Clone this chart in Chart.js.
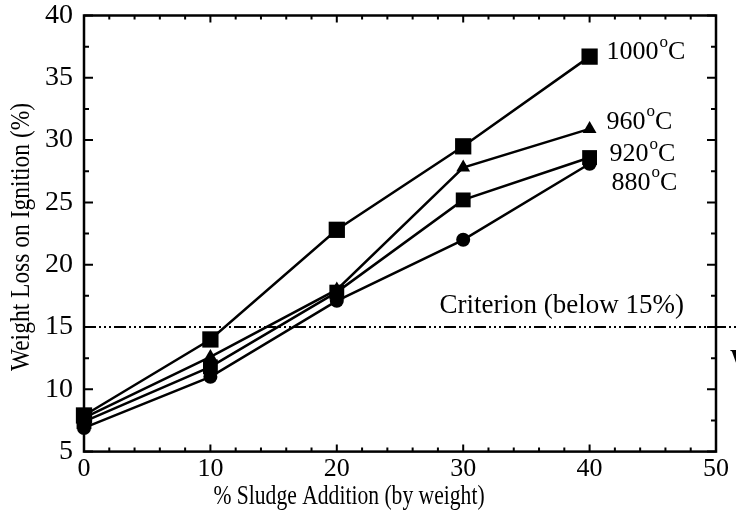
<!DOCTYPE html>
<html>
<head>
<meta charset="utf-8">
<script src="https://cdn.jsdelivr.net/npm/chart.js@4.4.1/dist/chart.umd.min.js"></script>
<style>
  html, body { margin: 0; padding: 0; background: #fff; }
  #c { display: block; }
</style>
</head>
<body>
<canvas id="c" width="736" height="520"></canvas>
<script>
// ---- data ----
const sludge = [0, 10, 20, 30, 40];
const temp1000 = [7.9, 14.0, 22.8, 29.5, 36.7];
const temp960  = [7.7, 12.6, 18.0, 27.8, 30.9];
const temp920  = [7.4, 11.8, 17.8, 25.2, 28.6];
const temp880  = [6.9, 11.0, 17.1, 22.0, 28.1];
const seriesNames = ['1000', '960', '920', '880'];
const criterionValue = 15;
const criterionText = 'Criterion (below 15%)';
const xTitle = '% Sludge Addition (by weight)';
const yTitle = 'Weight Loss on Ignition (%)';

const serif = '"Liberation Serif", "Times New Roman", serif';

function pts(vals) { return sludge.map((x, i) => ({ x: x, y: vals[i] })); }

function ds(vals, style, radius) {
  return {
    data: pts(vals),
    showLine: true,
    borderColor: '#000',
    backgroundColor: '#000',
    borderWidth: 2.5,
    pointStyle: style,
    pointRadius: radius,
    pointHoverRadius: radius,
    pointBackgroundColor: '#000',
    pointBorderColor: '#000',
    pointBorderWidth: 0,
    clip: false,
    tension: 0
  };
}

// label placement relative to last point (pixels)
const labelOffsets = [ {dx: 17, dy: -4}, {dx: 17, dy: -7}, {dx: 20, dy: -3}, {dx: 22, dy: 19} ];

function squeezedText(ctx, text, x, y, sx) {
  ctx.save();
  ctx.translate(x, y);
  ctx.scale(sx, 1);
  ctx.fillText(text, 0, 0);
  ctx.restore();
}

const framePlugin = {
  id: 'frame',
  afterDatasetsDraw(chart) {
    const ctx = chart.ctx;
    const a = chart.chartArea;
    const xs = chart.scales.x, ys = chart.scales.y;
    ctx.save();
    ctx.strokeStyle = '#000';
    ctx.lineWidth = 2.5;
    ctx.strokeRect(a.left, a.top, a.right - a.left, a.bottom - a.top);
    ctx.lineWidth = 2;
    ctx.beginPath();
    for (let v = 0; v <= 50; v += 2) {
      const px = xs.getPixelForValue(v);
      const len = (v % 10 === 0) ? 7 : 4;
      ctx.moveTo(px, a.bottom); ctx.lineTo(px, a.bottom - len);
      ctx.moveTo(px, a.top); ctx.lineTo(px, a.top + len);
    }
    for (let v = 5; v <= 40; v += 2.5) {
      const py = ys.getPixelForValue(v);
      const len = (v % 5 === 0) ? 9 : 5;
      ctx.moveTo(a.left, py); ctx.lineTo(a.left + len, py);
      ctx.moveTo(a.right, py); ctx.lineTo(a.right - len, py);
    }
    ctx.stroke();

    // criterion line
    const cy = ys.getPixelForValue(criterionValue);
    ctx.lineWidth = 2;
    ctx.setLineDash([12, 3, 2, 3, 2, 3, 2, 3]);
    ctx.beginPath();
    ctx.moveTo(a.left, cy);
    ctx.lineTo(chart.width, cy);
    ctx.stroke();
    ctx.setLineDash([]);

    ctx.fillStyle = '#000';
    ctx.textAlign = 'center';
    ctx.textBaseline = 'middle';
    ctx.font = '27px ' + serif;
    ctx.fillText(criterionText, xs.getPixelForValue(37.8), cy - 21);

    // series labels
    chart.data.datasets.forEach((d, i) => {
      const last = d.data[d.data.length - 1];
      const px = xs.getPixelForValue(last.x) + labelOffsets[i].dx;
      const py = ys.getPixelForValue(last.y) + labelOffsets[i].dy;
      ctx.textAlign = 'left';
      ctx.textBaseline = 'middle';
      ctx.font = '26px ' + serif;
      const t = seriesNames[i];
      ctx.fillText(t, px, py);
      const w = ctx.measureText(t).width;
      ctx.font = '17px ' + serif;
      ctx.fillText('o', px + w + 1, py - 10);
      const wo = ctx.measureText('o').width;
      ctx.font = '26px ' + serif;
      ctx.fillText('C', px + w + wo + 1, py);
    });

    // axis titles
    ctx.textAlign = 'center';
    ctx.textBaseline = 'middle';
    ctx.font = '27px ' + serif;
    squeezedText(ctx, xTitle, 349, 497, 0.8);
    ctx.save();
    ctx.translate(22, 237);
    ctx.rotate(-Math.PI / 2);
    ctx.scale(0.87, 1);
    ctx.fillText(yTitle, 0, 0);
    ctx.restore();

    // cut-off text at right edge of the picture
    ctx.font = 'bold 26px ' + serif;
    ctx.textAlign = 'left';
    ctx.fillText('W', 730, ys.getPixelForValue(12.3));
    ctx.restore();
  }
};

new Chart(document.getElementById('c'), {
  type: 'scatter',
  data: {
    datasets: [
      ds(temp1000, 'rect', 11.5),
      ds(temp960, 'triangle', 8),
      ds(temp920, 'rect', 10.5),
      ds(temp880, 'circle', 7)
    ]
  },
  options: {
    responsive: false,
    animation: false,
    devicePixelRatio: 1,
    layout: { padding: { left: 0, right: 20, top: 15.5, bottom: 0 } },
    plugins: { legend: { display: false }, tooltip: { enabled: false } },
    scales: {
      x: {
        type: 'linear', min: 0, max: 50,
        ticks: { stepSize: 10, color: '#000', font: { family: serif, size: 26 }, padding: 2, maxRotation: 0 },
        grid: { display: false, drawTicks: false },
        border: { display: false },
        title: { display: false },
        afterFit(s) { s.height = 68.4; s.paddingLeft = 0; s.paddingRight = 0; }
      },
      y: {
        type: 'linear', min: 5, max: 40,
        ticks: { stepSize: 5, color: '#000', font: { family: serif, size: 28 }, padding: 11 },
        grid: { display: false, drawTicks: false },
        border: { display: false },
        title: { display: false },
        afterFit(s) { s.width = 84; s.paddingTop = 0; s.paddingBottom = 0; }
      }
    }
  },
  plugins: [framePlugin]
});
</script>
</body>
</html>
